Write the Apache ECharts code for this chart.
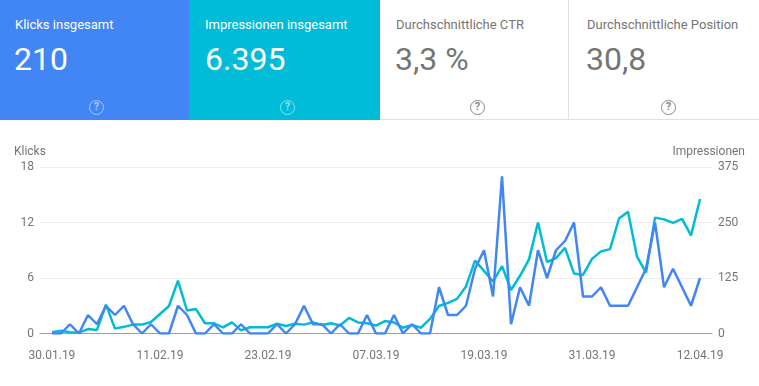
<!DOCTYPE html>
<html lang="de">
<head>
<meta charset="utf-8">
<title>Leistung</title>
<script src="https://cdn.jsdelivr.net/npm/echarts@6/dist/echarts.min.js"></script>
<style>
  html, body { margin: 0; padding: 0; background: #fff; }
  body { width: 759px; height: 386px; overflow: hidden; position: relative; font-family: Roboto, sans-serif; }
  .card { position: absolute; top: 0; height: 120px; box-sizing: border-box; color: #fff; }
  .card .label { position: absolute; left: 15px; top: 17px; font-size: 13px; line-height: 16px; white-space: nowrap; }
  .card .value { position: absolute; left: 14px; top: 40px; font-size: 32px; line-height: 38px; white-space: nowrap; }
  .card .help { position: absolute; top: 100px; width: 15px; height: 15px; box-sizing: border-box; border: 1.5px solid currentColor; border-radius: 50%; font-size: 11px; line-height: 12px; text-align: center; font-weight: 700; opacity: .55; }
  .plain { color: #757575; border-bottom: 1px solid #e0e0e0; }
  .plain .help { opacity: .85; }
  #chart { position: absolute; left: 0; top: 120px; width: 759px; height: 266px; }
</style>
</head>
<body>
  <div class="card" style="left:0;width:189px;background:#4285f4">
    <div class="label">Klicks insgesamt</div><div class="value">210</div><div class="help" style="left:89px">?</div>
  </div>
  <div class="card" style="left:189px;width:191px;background:#00bcd8">
    <div class="label" style="left:16px">Impressionen insgesamt</div><div class="value" style="left:16px">6.395</div><div class="help" style="left:91px">?</div>
  </div>
  <div class="card plain" style="left:380px;width:189px;border-right:1px solid #e0e0e0">
    <div class="label" style="left:16px">Durchschnittliche CTR</div><div class="value" style="left:15px">3,3 %</div><div class="help" style="left:90px">?</div>
  </div>
  <div class="card plain" style="left:569px;width:190px">
    <div class="label" style="left:18px">Durchschnittliche Position</div><div class="value" style="left:17px">30,8</div><div class="help" style="left:92px">?</div>
  </div>
  <div id="chart"></div>

<script>
// Tageswerte 30.01.19 - 12.04.19 (73 Tage)
const klicks = [
  0, 0, 1, 0, 2, 1, 3, 2, 3, 1,
  0, 1, 0, 0, 3, 2, 0, 0, 1, 0,
  0, 1, 0, 0, 0, 1, 0, 1, 3, 1,
  1, 0, 1, 0, 0, 2, 0, 0, 2, 0,
  1, 0, 0, 5, 2, 2, 3, 7, 9, 4,
  17, 1, 5, 3, 9, 6, 9, 10, 12, 4,
  4, 5, 3, 3, 3, 5, 7, 12, 5, 7,
  5, 3, 6
];
const impressionen = [
  3, 6, 3, 2, 10, 8, 65, 11, 15, 20,
  20, 26, 44, 62, 119, 52, 55, 23, 23, 14,
  25, 7, 14, 14, 14, 22, 17, 22, 20, 25,
  19, 23, 18, 35, 25, 23, 18, 28, 25, 13,
  19, 13, 33, 62, 69, 78, 106, 164, 141, 117,
  152, 98, 130, 167, 250, 161, 170, 193, 135, 132,
  168, 185, 190, 259, 274, 173, 137, 261, 257, 249,
  258, 221, 303
];
const xTickDays = [0, 12, 24, 36, 48, 60, 72];
const xTickLabels = ['30.01.19', '11.02.19', '23.02.19', '07.03.19', '19.03.19', '31.03.19', '12.04.19'];

const textColor = '#757575';
const toPairs = (values) => values.map((v, i) => [i, v]);

const chart = echarts.init(document.getElementById('chart'));
chart.setOption({
  animation: false,
  textStyle: { fontFamily: 'Roboto' },
  grid: { left: 40, right: 47, top: 47, height: 166.5 },
  // Wertachse, damit die Linie links und rechts etwas Abstand zum Raster hat
  xAxis: {
    type: 'value',
    min: -1.33,
    max: 73.33,
    splitLine: { show: false },
    axisTick: { show: false },
    axisLine: { show: true, onZero: false, lineStyle: { color: '#9e9e9e', width: 1 } },
    axisLabel: {
      customValues: xTickDays,
      margin: 16,
      fontSize: 12,
      color: textColor,
      formatter: (v) => xTickLabels[xTickDays.indexOf(v)]
    }
  },
  yAxis: [
    {
      type: 'value',
      min: 0,
      max: 18,
      interval: 6,
      name: 'Klicks',
      nameGap: 9,
      nameTextStyle: { color: textColor, fontSize: 12, align: 'left', padding: [0, 0, 0, -38] },
      axisLine: { show: false },
      axisTick: { show: false },
      axisLabel: { color: textColor, fontSize: 12, margin: 6 },
      splitLine: { lineStyle: { color: '#eeeeee', width: 1 } }
    },
    {
      type: 'value',
      min: 0,
      max: 375,
      interval: 125,
      name: 'Impressionen',
      nameGap: 9,
      nameTextStyle: { color: textColor, fontSize: 12, align: 'right', padding: [0, -33, 0, 0] },
      axisLine: { show: false },
      axisTick: { show: false },
      axisLabel: { color: textColor, fontSize: 12, margin: 6 },
      splitLine: { show: false }
    }
  ],
  series: [
    {
      name: 'Impressionen',
      type: 'line',
      yAxisIndex: 1,
      data: toPairs(impressionen),
      showSymbol: false,
      lineStyle: { color: '#00bcd4', width: 2.5 }
    },
    {
      name: 'Klicks',
      type: 'line',
      yAxisIndex: 0,
      data: toPairs(klicks),
      showSymbol: false,
      lineStyle: { color: '#4285f4', width: 2.5 }
    }
  ]
});
</script>
</body>
</html>
